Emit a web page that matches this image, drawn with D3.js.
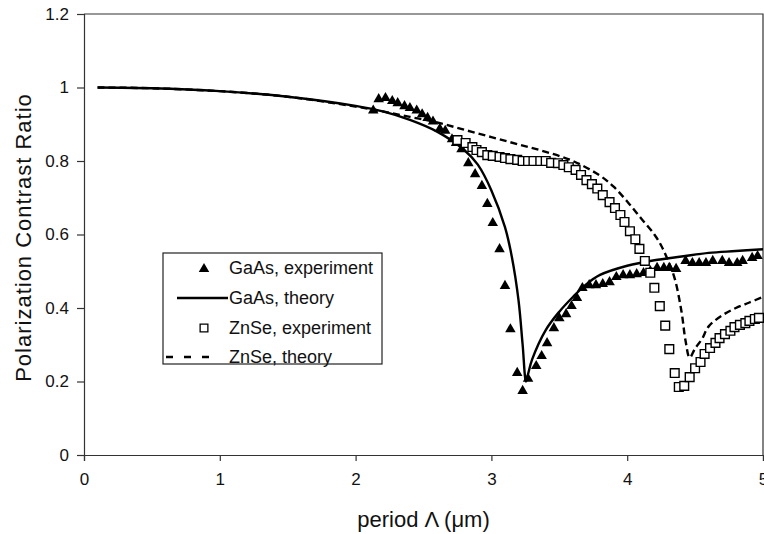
<!DOCTYPE html>
<html>
<head>
<meta charset="utf-8">
<script src="https://cdn.jsdelivr.net/npm/d3@7"></script>
<style>
  html, body { margin: 0; padding: 0; background: #fff; }
  svg { display: block; font-family: "Liberation Sans", Arial, sans-serif; }
</style>
</head>
<body>
<svg id="chart" width="764" height="534"></svg>
<script>
// Tick values
const xTicks = [0, 1, 2, 3, 4, 5];
const yTicks = [0, 0.2, 0.4, 0.6, 0.8, 1, 1.2];

// GaAs, experiment (triangles)
const gaasExpX = [2.13,2.17,2.22,2.27,2.31,2.36,2.40,2.45,2.49,2.53,2.57,2.62,2.66,2.71,2.74,2.78,2.83,2.88,2.93,2.97,3.01,3.06,3.10,3.14,3.19,3.23,3.27,3.33,3.37,3.41,3.46,3.50,3.55,3.59,3.63,3.67,3.72,3.77,3.82,3.87,3.92,3.97,4.02,4.07,4.12,4.17,4.22,4.27,4.31,4.36,4.43,4.48,4.53,4.58,4.63,4.70,4.75,4.81,4.85,4.92,4.96];
const gaasExpY = [0.94,0.971,0.974,0.966,0.96,0.952,0.947,0.94,0.93,0.92,0.91,0.89,0.885,0.862,0.852,0.835,0.797,0.767,0.735,0.686,0.634,0.563,0.463,0.345,0.226,0.177,0.21,0.245,0.272,0.307,0.348,0.375,0.386,0.408,0.43,0.457,0.465,0.465,0.468,0.473,0.487,0.492,0.492,0.495,0.498,0.503,0.512,0.512,0.512,0.509,0.531,0.525,0.525,0.525,0.531,0.531,0.525,0.525,0.531,0.539,0.544];

// GaAs, theory (solid line)
const gaasThX = [0.1,0.5,1.0,1.5,2.0,2.2,2.4,2.6,2.8,2.9,3.0,3.1,3.15,3.2,3.23,3.255,3.27,3.3,3.4,3.5,3.6,3.7,3.8,4.0,4.2,4.4,4.6,4.8,5.0];
const gaasThY = [1.0,0.998,0.99,0.975,0.95,0.935,0.912,0.88,0.83,0.79,0.72,0.62,0.54,0.42,0.30,0.20,0.22,0.26,0.34,0.39,0.43,0.465,0.49,0.515,0.53,0.54,0.55,0.555,0.56];

// ZnSe, experiment (open squares)
const znseExpX = [2.75,2.81,2.86,2.89,2.93,2.97,3.01,3.06,3.10,3.14,3.19,3.23,3.27,3.31,3.36,3.40,3.44,3.49,3.53,3.57,3.62,3.66,3.70,3.74,3.78,3.82,3.87,3.91,3.95,3.98,4.02,4.06,4.09,4.13,4.17,4.20,4.24,4.28,4.31,4.35,4.38,4.42,4.46,4.50,4.54,4.57,4.61,4.65,4.68,4.72,4.76,4.79,4.83,4.87,4.90,4.94,4.97];
const znseExpY = [0.857,0.849,0.838,0.83,0.824,0.816,0.814,0.811,0.808,0.805,0.803,0.80,0.80,0.80,0.80,0.80,0.795,0.794,0.789,0.783,0.776,0.762,0.748,0.737,0.725,0.707,0.688,0.672,0.653,0.634,0.609,0.587,0.561,0.528,0.496,0.455,0.405,0.352,0.288,0.223,0.185,0.188,0.212,0.236,0.253,0.275,0.291,0.305,0.318,0.329,0.338,0.348,0.354,0.359,0.365,0.37,0.373];

// ZnSe, theory (dashed line)
const znseThX = [0.1,0.5,1.0,1.5,2.0,2.2,2.4,2.6,2.8,3.0,3.2,3.4,3.6,3.8,3.9,4.0,4.1,4.2,4.25,4.3,4.35,4.4,4.43,4.46,4.5,4.55,4.6,4.7,4.8,4.9,5.0];
const znseThY = [1.0,0.998,0.99,0.975,0.948,0.935,0.92,0.905,0.885,0.865,0.845,0.825,0.80,0.76,0.73,0.69,0.645,0.60,0.57,0.53,0.48,0.39,0.31,0.265,0.29,0.315,0.35,0.38,0.40,0.415,0.43];

const legendLabels = ["GaAs, experiment", "GaAs, theory", "ZnSe, experiment", "ZnSe, theory"];

const svg = d3.select("#chart");
const plotLeft = 84, plotRight = 763, plotTop = 14, plotBottom = 455;

const x = d3.scaleLinear().domain([0, 5]).range([plotLeft, plotRight]);
const y = d3.scaleLinear().domain([0, 1.2]).range([plotBottom, plotTop]);

const zip = (xs, ys) => xs.map((v, i) => [v, ys[i]]);

// Frame (top and right edges)
svg.append("path")
  .attr("d", `M${plotLeft},${plotTop}H${plotRight}V${plotBottom}`)
  .attr("fill", "none").attr("stroke", "#333").attr("stroke-width", 1.2);

// Axes
const xAxis = svg.append("g").attr("transform", `translate(0,${plotBottom})`)
  .call(d3.axisBottom(x).tickValues(xTicks).tickSize(6).tickPadding(12).tickFormat(d3.format("d")));
const yAxis = svg.append("g").attr("transform", `translate(${plotLeft},0)`)
  .call(d3.axisLeft(y).tickValues(yTicks).tickSize(7).tickPadding(8).tickFormat(d => d3.format("~g")(d)));
[xAxis, yAxis].forEach(g => {
  g.selectAll(".domain").attr("stroke", "#333").attr("stroke-width", 1.2);
  g.selectAll(".tick line").attr("stroke", "#333").attr("stroke-width", 1.2);
  g.selectAll("text").attr("fill", "#111").style("font-size", "17px")
    .style("font-family", "'Liberation Sans', Arial, sans-serif");
});

// Axis titles
svg.append("text").attr("x", (plotLeft + plotRight) / 2).attr("y", 527)
  .attr("text-anchor", "middle").style("font-size", "22px").attr("fill", "#111")
  .text("period Λ (μm)");
svg.append("text").attr("transform", `translate(31,${(plotTop + plotBottom) / 2 + 3}) rotate(-90)`)
  .attr("text-anchor", "middle").style("font-size", "22px").style("letter-spacing", "1px")
  .attr("fill", "#111")
  .text("Polarization Contrast Ratio");

const lineSharp = d3.line().x(d => x(d[0])).y(d => y(d[1])).curve(d3.curveCatmullRom.alpha(0.5));

const plot = svg.append("g");

// GaAs experiment triangles
const tri = d3.symbol().type(d3.symbolTriangle).size(48);
plot.selectAll("path.gaasExp").data(zip(gaasExpX, gaasExpY)).join("path")
  .attr("class", "gaasExp")
  .attr("d", tri)
  .attr("transform", d => `translate(${x(d[0])},${y(d[1]) + 1})`)
  .attr("fill", "#000");

// GaAs theory
plot.append("path").datum(zip(gaasThX, gaasThY))
  .attr("d", lineSharp).attr("fill", "none")
  .attr("stroke", "#000").attr("stroke-width", 2.4);

// ZnSe experiment squares
const sq = d3.symbol().type(d3.symbolSquare).size(76);
plot.selectAll("path.znseExp").data(zip(znseExpX, znseExpY)).join("path")
  .attr("class", "znseExp")
  .attr("d", sq)
  .attr("transform", d => `translate(${x(d[0])},${y(d[1])})`)
  .attr("fill", "#fff").attr("stroke", "#000").attr("stroke-width", 1.4);

// ZnSe theory
plot.append("path").datum(zip(znseThX, znseThY))
  .attr("d", lineSharp).attr("fill", "none")
  .attr("stroke", "#000").attr("stroke-width", 2.4)
  .attr("stroke-dasharray", "7,4");

// Legend
const lg = svg.append("g");
lg.append("rect").attr("x", 163).attr("y", 253).attr("width", 219).attr("height", 111)
  .attr("fill", "#fff").attr("stroke", "#222").attr("stroke-width", 1.2);
const rowY = [268, 298, 328, 357];
lg.selectAll("text").data(legendLabels).join("text")
  .attr("x", 229).attr("y", (d, i) => rowY[i] + 6)
  .style("font-size", "18px").attr("fill", "#111").text(d => d);
lg.append("path").attr("d", tri).attr("transform", `translate(204,${rowY[0] + 1})`).attr("fill", "#000");
lg.append("line").attr("x1", 177).attr("x2", 228).attr("y1", rowY[1]).attr("y2", rowY[1])
  .attr("stroke", "#000").attr("stroke-width", 2.4);
lg.append("path").attr("d", d3.symbol().type(d3.symbolSquare).size(60))
  .attr("transform", `translate(204,${rowY[2]})`)
  .attr("fill", "#fff").attr("stroke", "#000").attr("stroke-width", 1.3);
lg.append("line").attr("x1", 166).attr("x2", 210).attr("y1", rowY[3]).attr("y2", rowY[3])
  .attr("stroke", "#000").attr("stroke-width", 2.4).attr("stroke-dasharray", "7,11");
</script>
</body>
</html>
